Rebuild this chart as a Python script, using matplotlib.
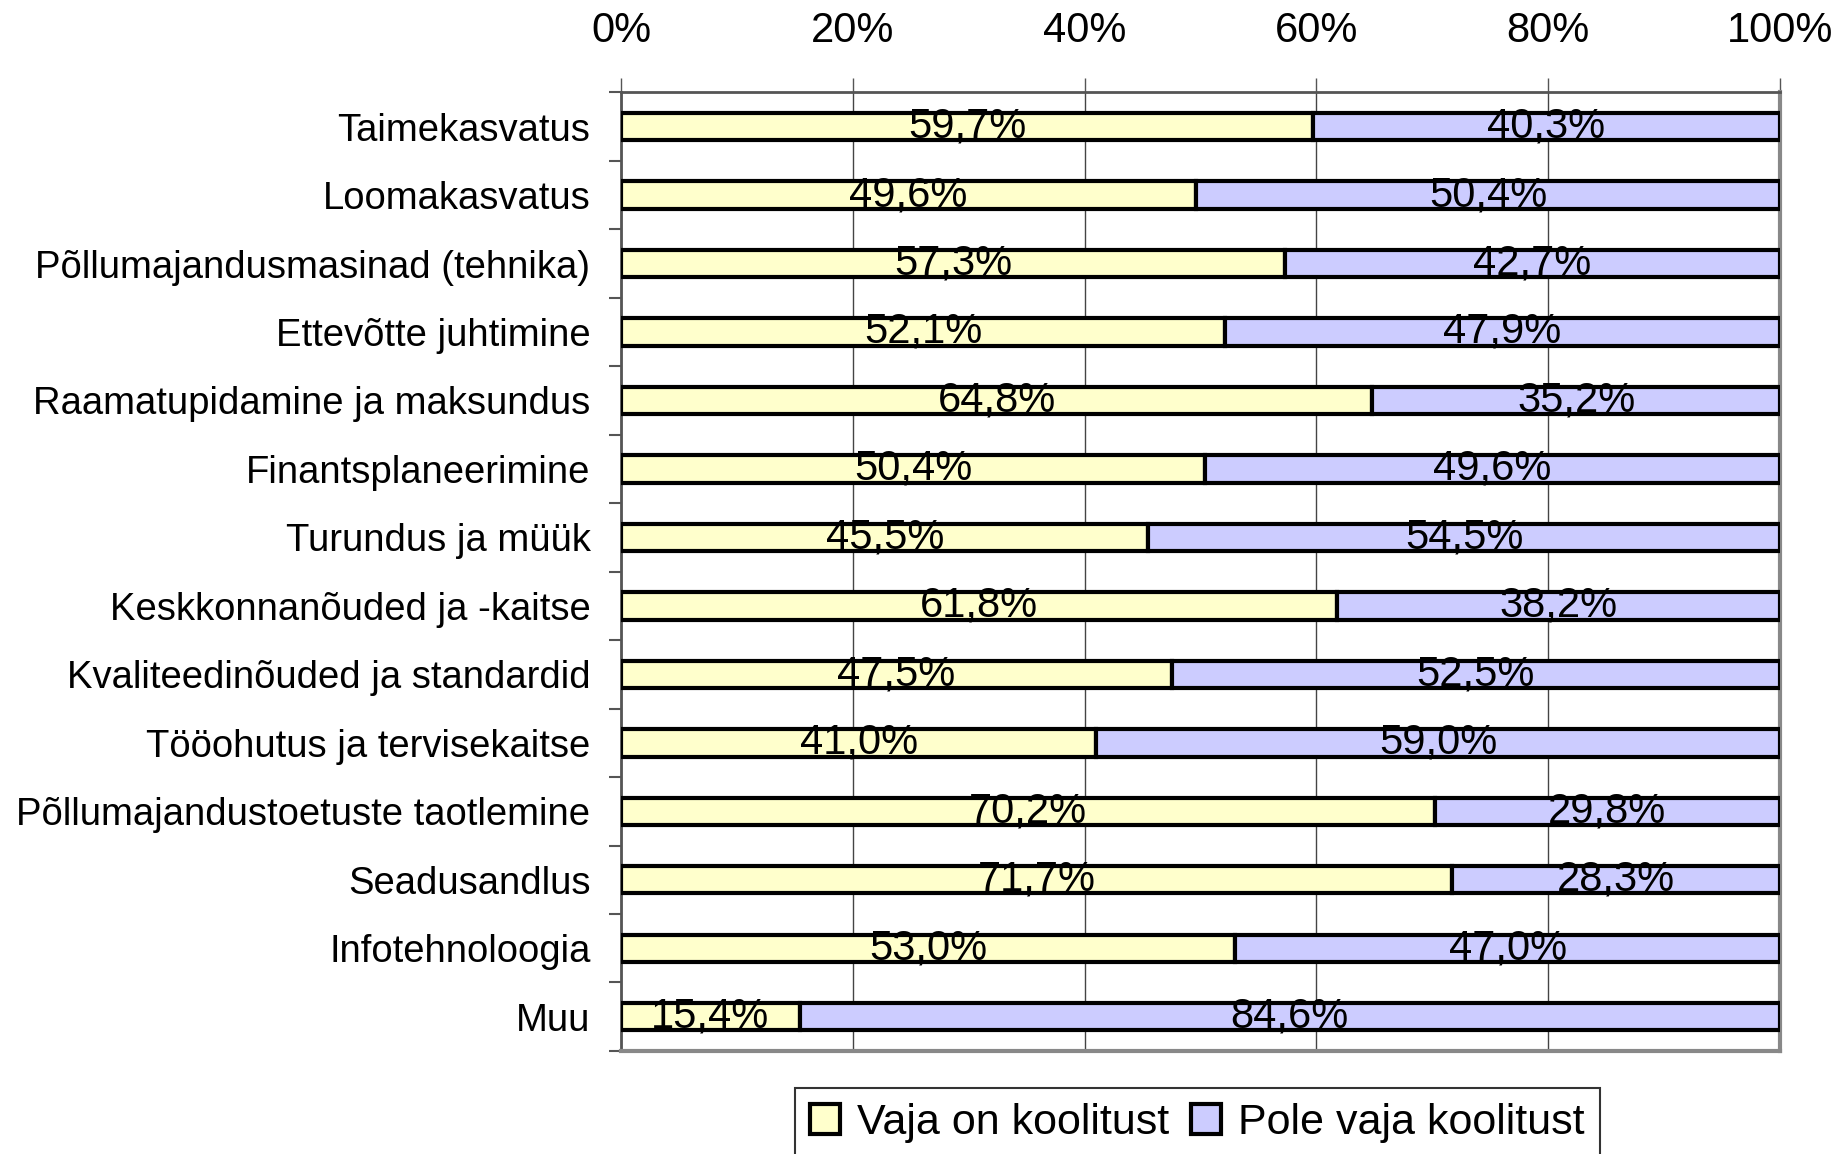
import numpy as np
import matplotlib.pyplot as plt
from matplotlib.ticker import FixedLocator

plt.rcParams['font.family'] = ['Liberation Sans', 'DejaVu Sans']

categories = ['Taimekasvatus', 'Loomakasvatus', 'Põllumajandusmasinad (tehnika)',
              'Ettevõtte juhtimine', 'Raamatupidamine ja maksundus', 'Finantsplaneerimine',
              'Turundus ja müük', 'Keskkonnanõuded ja -kaitse', 'Kvaliteedinõuded ja standardid',
              'Tööohutus ja tervisekaitse', 'Põllumajandustoetuste taotlemine', 'Seadusandlus',
              'Infotehnoloogia', 'Muu']
vaja = [59.7, 49.6, 57.3, 52.1, 64.8, 50.4, 45.5, 61.8, 47.5, 41.0, 70.2, 71.7, 53.0, 15.4]
pole = [40.3, 50.4, 42.7, 47.9, 35.2, 49.6, 54.5, 38.2, 52.5, 59.0, 29.8, 28.3, 47.0, 84.6]
series_names = ['Vaja on koolitust', 'Pole vaja koolitust']
xticks = [0, 20, 40, 60, 80, 100]

fig = plt.figure(figsize=(18.45, 11.54), dpi=100)
ax = fig.add_axes([0.3366, 0.0893, 0.9648 - 0.3366, 0.920 - 0.0893])

y = np.arange(len(categories))
h = 0.4
b1 = ax.barh(y, vaja, height=h, color='#FFFFCC', edgecolor='black', linewidth=3,
             label=series_names[0], zorder=3)
b2 = ax.barh(y, pole, left=vaja, height=h, color='#CCCCFF', edgecolor='black', linewidth=3,
             label=series_names[1], zorder=3)

fmt = lambda v: f'{v:.1f}%'.replace('.', ',')
for i in range(len(categories)):
    ax.text(vaja[i] / 2, y[i], fmt(vaja[i]), ha='center', va='center', fontsize=30, zorder=4)
    ax.text(vaja[i] + pole[i] / 2, y[i], fmt(pole[i]), ha='center', va='center', fontsize=30, zorder=4)

ax.set_xlim(0, 100)
ax.set_ylim(len(categories) - 0.5, -0.5)

ax.xaxis.tick_top()
ax.set_xticks(xticks)
ax.set_xticklabels([f'{t}%' for t in xticks], fontsize=30)
ax.tick_params(axis='x', direction='out', length=10, width=1, color='#555555', pad=20)
ax.grid(axis='x', color='#444444', linewidth=1, zorder=0)

ax.set_yticks(y)
ax.set_yticklabels(categories, fontsize=27.5)
ax.tick_params(axis='y', which='major', length=0, pad=22)
ax.yaxis.set_minor_locator(FixedLocator(np.arange(-0.5, len(categories), 1)))
ax.tick_params(axis='y', which='minor', length=9, width=1.5, color='#555555')

for s in ['top', 'left']:
    ax.spines[s].set_color('#555555')
    ax.spines[s].set_linewidth(2)
for s in ['bottom', 'right']:
    ax.spines[s].set_color('#888888')
    ax.spines[s].set_linewidth(3)

leg = fig.legend(handles=[b1, b2], labels=series_names, loc='upper center',
                 bbox_to_anchor=(0.649, 0.0572), ncol=2, fontsize=31, frameon=True,
                 fancybox=False, edgecolor='black', handlelength=0.7, handleheight=0.7,
                 handletextpad=0.4, columnspacing=0.5, borderpad=0.35, borderaxespad=0)
leg.get_frame().set_linewidth(1.5)

fig.savefig('out.png', dpi=100)
